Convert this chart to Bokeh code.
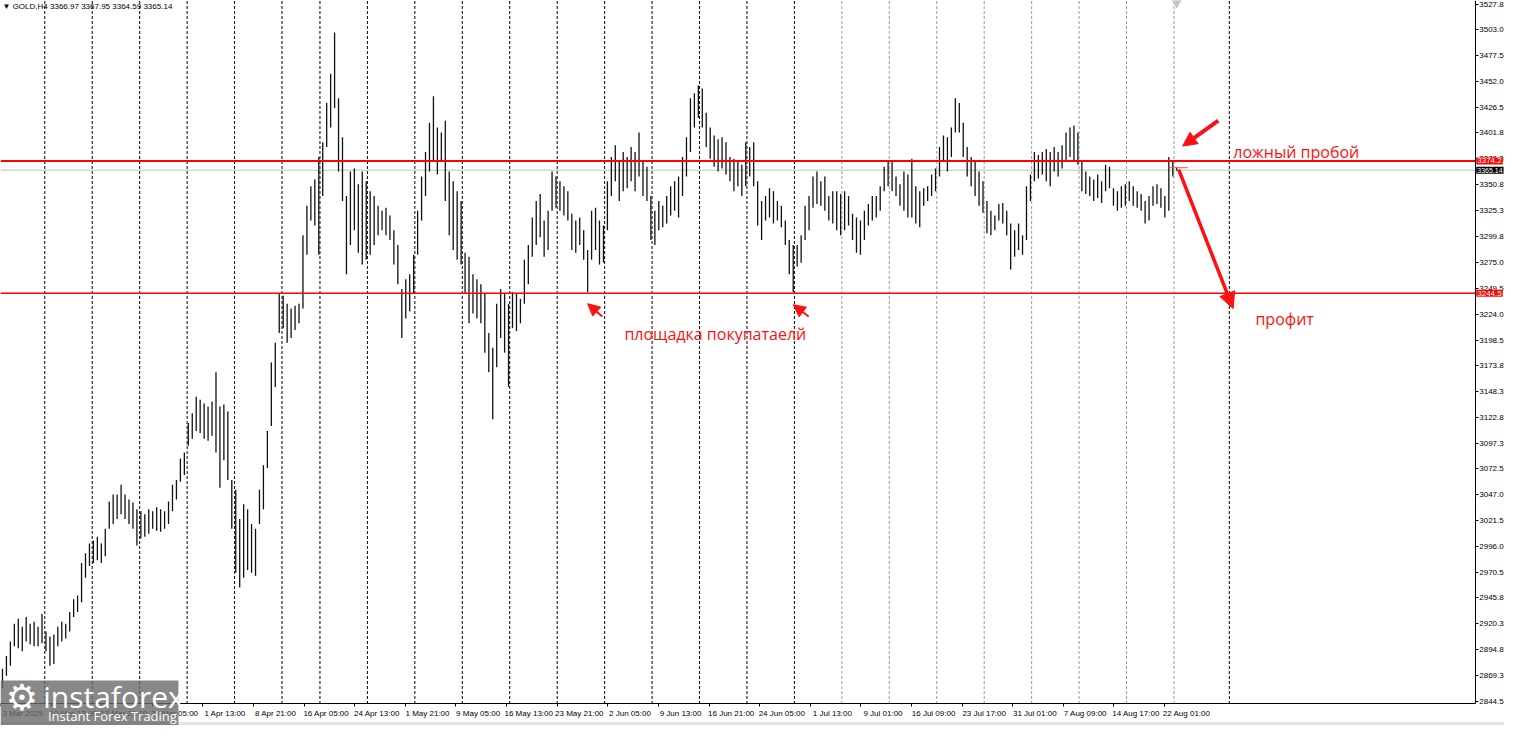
from bokeh.plotting import figure
from bokeh.models import (Range1d, FixedTicker, Label, Arrow, NormalHead, PrintfTickFormatter, BoxAnnotation,
                          ColumnDataSource, LinearAxis)
from bokeh.embed import file_html
from bokeh.resources import INLINE

highs = [2876.1, 2888.6, 2903.0, 2920.3, 2925.1, 2917.4, 2927.0, 2920.3, 2922.2, 2917.4, 2929.9,
         2912.6, 2907.8, 2909.7, 2917.4, 2922.2, 2920.3, 2931.8, 2944.3, 2948.1, 2979.8, 2989.4, 2999.0,
         3001.9, 3005.7, 2999.0, 3013.4, 3040.3, 3047.0, 3047.0, 3056.6, 3047.0, 3042.2, 3039.3, 3032.6,
         3030.7, 3027.8, 3032.6, 3030.7, 3034.5, 3032.6, 3030.7, 3040.3, 3056.6, 3061.4, 3082.5, 3088.3,
         3117.1, 3126.7, 3143.0, 3140.1, 3136.3, 3133.4, 3138.2, 3167.0, 3133.4, 3135.3, 3128.6, 3061.4,
         3051.8, 3023.0, 3037.4, 3032.6, 3018.2, 3013.4, 3051.8, 3075.8, 3109.4, 3176.6, 3195.8, 3243.8,
         3241.9, 3234.2, 3229.4, 3232.3, 3234.2, 3301.4, 3330.2, 3349.4, 3356.1, 3378.2,
         3392.6, 3431.0, 3459.8, 3500.1, 3435.8, 3397.4, 3339.8, 3363.8, 3366.7, 3351.3, 3363.8, 3354.2,
         3344.6, 3339.8, 3330.2, 3325.4, 3328.3, 3320.6, 3306.2, 3291.8, 3248.6, 3258.2, 3263.0, 3282.2,
         3325.4, 3359.0, 3383.0, 3411.8, 3437.7, 3407.0, 3402.2, 3413.7, 3363.8, 3354.2, 3344.6, 3335.0,
         3284.1, 3280.3, 3263.0, 3258.2, 3253.4, 3243.8, 3205.4, 3191.0, 3234.2, 3248.6, 3243.8, 3234.2,
         3245.7, 3243.8, 3239.0, 3277.4, 3291.8, 3318.7, 3335.0, 3341.7, 3315.8, 3325.4, 3363.8, 3359.0,
         3354.2, 3349.4, 3344.6, 3322.5, 3315.8, 3318.7, 3306.2, 3287.0, 3325.4, 3328.3, 3315.8, 3311.0,
         3354.2, 3378.2, 3389.7, 3373.4, 3383.0, 3378.2, 3387.8, 3383.0, 3402.2, 3373.4, 3368.6, 3339.8,
         3325.4, 3335.0, 3330.2, 3339.8, 3349.4, 3354.2, 3359.0, 3378.2, 3397.4, 3435.8, 3440.6, 3448.3,
         3445.4, 3421.4, 3407.0, 3399.3, 3395.5, 3397.4, 3392.6, 3378.2, 3376.3, 3373.4, 3370.5, 3392.6,
         3387.8, 3392.6, 3354.2, 3335.0, 3339.8, 3347.5, 3344.6, 3335.0, 3330.2, 3315.8, 3296.6, 3291.8,
         3291.8, 3301.4, 3330.2, 3339.8, 3359.0, 3363.8, 3354.2, 3359.0, 3339.8, 3344.6, 3344.6,
         3341.7, 3344.6, 3339.8, 3322.5, 3318.7, 3315.8, 3325.4, 3332.1, 3339.8, 3339.8, 3349.4, 3368.6, 3373.4,
         3373.4, 3359.0, 3351.3, 3363.8, 3360.9, 3376.3, 3349.4, 3344.6, 3347.5, 3349.4, 3360.9, 3366.7,
         3387.8, 3399.3, 3397.4, 3407.0, 3435.8, 3431.0, 3411.8, 3387.8, 3378.2, 3373.4, 3363.8, 3354.2,
         3335.0, 3325.4, 3320.6, 3332.1, 3333.1, 3325.4, 3312.9, 3306.2, 3312.9, 3301.4, 3349.4, 3360.9,
         3383.0, 3380.1, 3383.0, 3385.9, 3383.0, 3387.8, 3383.0, 3389.7, 3402.2, 3407.0, 3409.0, 3402.2,
         3373.4, 3363.8, 3359.0, 3356.1, 3360.9, 3354.2, 3370.5, 3368.6, 3347.5, 3344.6, 3349.4, 3351.3,
         3354.2, 3349.4, 3344.6, 3341.7, 3335.0, 3339.8, 3349.4, 3351.3, 3347.5, 3339.8, 3378.2, 3373.4, 3368.0]

lows = [2856.9, 2869.4, 2879.0, 2898.2, 2896.3, 2893.4, 2903.0, 2900.1, 2898.2, 2898.2, 2901.1,
        2893.4, 2879.0, 2880.9, 2898.2, 2903.0, 2905.9, 2912.6, 2927.0, 2931.8, 2941.4, 2965.4, 2976.9,
        2979.8, 2982.7, 2979.8, 2986.5, 3013.4, 3018.2, 3023.0, 3027.8, 3023.0, 3018.2, 3013.4, 2997.1,
        3003.8, 3005.7, 3008.6, 3013.4, 3011.5, 3010.5, 3013.4, 3018.2, 3030.7, 3042.2, 3059.5, 3066.2,
        3095.0, 3101.8, 3109.4, 3107.5, 3101.8, 3099.8, 3104.6, 3088.3, 3053.7, 3080.6, 3061.4, 3013.4,
        2970.2, 2955.8, 2965.4, 2973.1, 2970.2, 2967.3, 3018.2, 3032.6, 3072.9, 3114.2, 3152.6, 3205.4,
        3210.2, 3195.8, 3200.6, 3208.3, 3215.0, 3229.4, 3282.2, 3315.8, 3311.0, 3282.2,
        3339.8, 3387.8, 3407.0, 3426.2, 3363.8, 3335.0, 3263.0, 3291.8, 3306.2, 3284.1, 3272.6, 3277.4,
        3282.2, 3291.8, 3301.4, 3306.2, 3301.4, 3296.6, 3272.6, 3253.4, 3200.6, 3219.8, 3226.5, 3243.8,
        3282.2, 3315.8, 3339.8, 3363.8, 3373.4, 3360.9, 3373.4, 3335.0, 3301.4, 3287.0, 3277.4, 3272.6,
        3243.8, 3215.0, 3224.6, 3219.8, 3215.0, 3186.2, 3167.0, 3120.9, 3171.8, 3200.6, 3186.2, 3152.6,
        3210.2, 3207.3, 3215.0, 3234.2, 3253.4, 3280.3, 3291.8, 3299.5, 3280.3, 3287.0, 3325.4, 3328.3,
        3325.4, 3320.6, 3315.8, 3287.0, 3284.1, 3291.8, 3277.4, 3245.7, 3277.4, 3287.0, 3272.6, 3274.5,
        3306.2, 3339.8, 3354.2, 3335.0, 3344.6, 3347.5, 3354.2, 3344.6, 3359.0, 3339.8, 3335.0, 3296.6,
        3291.8, 3306.2, 3309.1, 3312.9, 3320.6, 3325.4, 3318.7, 3339.8, 3359.0, 3383.0, 3407.0, 3416.6,
        3407.0, 3387.8, 3376.3, 3368.6, 3363.8, 3366.7, 3360.9, 3354.2, 3344.6, 3349.4, 3339.8, 3349.4,
        3359.0, 3349.4, 3311.0, 3296.6, 3315.8, 3318.7, 3312.9, 3315.8, 3309.1, 3291.8, 3263.0, 3245.7,
        3270.7, 3274.5, 3296.6, 3306.2, 3328.3, 3332.1, 3330.2, 3325.4, 3315.8, 3312.9, 3306.2,
        3301.4, 3306.2, 3311.0, 3296.6, 3284.1, 3282.2, 3296.6, 3311.0, 3315.8, 3318.7, 3325.4, 3344.6, 3349.4,
        3344.6, 3339.8, 3330.2, 3325.4, 3318.7, 3318.7, 3312.9, 3309.1, 3330.2, 3335.0, 3339.8, 3344.6,
        3359.0, 3373.4, 3363.8, 3378.2, 3402.2, 3402.2, 3378.2, 3359.0, 3349.4, 3339.8, 3330.2, 3323.5,
        3303.3, 3301.4, 3306.2, 3315.8, 3312.9, 3301.4, 3267.8, 3280.3, 3287.0, 3282.2, 3296.6, 3335.0,
        3354.2, 3357.1, 3361.0, 3354.2, 3349.4, 3363.8, 3359.0, 3366.7, 3373.4, 3378.2, 3373.4, 3370.5,
        3344.6, 3341.7, 3339.8, 3335.0, 3337.9, 3333.1, 3344.6, 3347.5, 3330.2, 3325.4, 3328.3, 3330.2,
        3335.0, 3330.2, 3328.3, 3325.4, 3312.9, 3315.8, 3330.2, 3332.1, 3328.3, 3318.7, 3325.4, 3359.0, 3364.6]

# x-axis date labels, every 32 H4 bars
date_labels = ["3 Mar 2025", "10 Mar 13:00", "17 Mar 21:00", "25 Mar 05:00", "1 Apr 13:00", "8 Apr 21:00",
               "16 Apr 05:00", "24 Apr 13:00", "1 May 21:00", "9 May 05:00", "16 May 13:00", "23 May 21:00",
               "2 Jun 05:00", "9 Jun 13:00", "16 Jun 21:00", "24 Jun 05:00", "1 Jul 13:00", "9 Jul 01:00",
               "16 Jul 09:00", "23 Jul 17:00", "31 Jul 01:00", "7 Aug 09:00", "14 Aug 17:00", "22 Aug 01:00"]
# weekly period separators (H4 bar numbers)
week_seps = [28, 58, 88, 118, 148, 178, 202, 232, 262, 292, 322, 352, 382, 412, 442, 472, 502,
             532, 562, 592, 622, 652, 682, 712, 742, 777]
price_ticks = [2844.5, 2869.3, 2894.8, 2920.3, 2945.8, 2970.5, 2996.0, 3021.5, 3047.0, 3072.5, 3097.3,
               3122.8, 3148.3, 3173.8, 3198.5, 3224.0, 3249.5, 3275.0, 3299.8, 3325.3, 3350.8, 3376.3,
               3401.8, 3426.5, 3452.0, 3477.5, 3503.0, 3527.8]
resistance = 3374.2
support = 3244.5
bid = 3365.14
ask = 3367.6

# chart window (H4 bar numbers / prices)
X_END = 932.5        # right price scale position
P_BOTTOM = 2841.6    # time scale position
P_TOP = 3531.6
P_MIN = 2820.5

bar_no = [1.25 + 2.5 * i for i in range(len(highs))]
src = ColumnDataSource(dict(x=bar_no, hi=highs, lo=lows))

FONT = "Liberation Sans"
p = figure(width=1504, height=725, output_backend="svg", toolbar_location=None,
           x_range=Range1d(0, 951), y_range=Range1d(P_MIN, P_TOP),
           y_axis_location="right", min_border=0, min_border_left=0, min_border_top=0,
           min_border_right=0, min_border_bottom=0)
p.outline_line_color = None
p.xgrid.visible = False
p.ygrid.visible = False
p.background_fill_color = "white"
p.border_fill_color = "white"

# bottom strip of the terminal window
p.add_layout(BoxAnnotation(left=0, right=951, bottom=P_MIN, top=2824.0, fill_color="#e2e2e2",
                           fill_alpha=1, line_color=None))

# axes, pinned at the chart window edges
label_pos = [32 * j for j in range(len(date_labels))]
xa = p.xaxis[0]
xa.ticker = FixedTicker(ticks=label_pos)
xa.major_label_text_color = None
xa.fixed_location = P_BOTTOM
xa.bounds = (0, X_END)
ya = p.yaxis[0]
ya.ticker = FixedTicker(ticks=price_ticks)
ya.formatter = PrintfTickFormatter(format="%.1f")
ya.fixed_location = X_END
ya.bounds = (P_BOTTOM, P_TOP)
for ax in (xa, ya):
    ax.axis_line_color = "black"
    ax.major_tick_line_color = "black"
    ax.major_tick_in = 0
    ax.major_tick_out = 3
    ax.minor_tick_line_color = None
    ax.major_label_text_font = FONT
    ax.major_label_text_font_size = "8px"
    ax.major_label_standoff = 1
ya.major_label_text_color = "black"

# date labels start at their tick (as in the terminal)
lab_pos = [pos + 14 for pos in label_pos]
lab_axis = LinearAxis(ticker=FixedTicker(ticks=lab_pos),
                      major_label_overrides={pos: lab for pos, lab in zip(lab_pos, date_labels)},
                      fixed_location=P_BOTTOM, axis_line_color=None, major_tick_line_color=None,
                      minor_tick_line_color=None, major_tick_in=0, major_tick_out=3,
                      major_label_standoff=2, major_label_text_font=FONT,
                      major_label_text_font_size="8px", major_label_text_color="black")
p.add_layout(lab_axis, "below")

# period separators
sep_col = ["black" if (s < 520 or s == week_seps[-1]) else "#9a9a9a" for s in week_seps]
p.segment(x0=week_seps, y0=[P_BOTTOM] * len(week_seps), x1=week_seps, y1=[P_TOP] * len(week_seps),
          line_color=sep_col, line_width=1, line_dash="3 2")

# bid line
p.segment(x0=[0], y0=[bid], x1=[X_END], y1=[bid], line_color="#d4d4d4", line_width=1.5)

# bars
p.segment(x0="x", y0="lo", x1="x", y1="hi", source=src, line_color="#111111", line_width=1.3)

# ask marker
p.segment(x0=[bar_no[-1] - 5], y0=[ask], x1=[bar_no[-1] + 7], y1=[ask], line_color="#ff5a1f", line_width=1)

# chart shift marker
p.scatter(x=[bar_no[-1]], y=[P_TOP - 2], marker="inverted_triangle", size=9,
          fill_color="#c4c4c4", line_color="#c4c4c4")

# level lines
p.segment(x0=[0], y0=[resistance], x1=[X_END], y1=[resistance], line_color="#ff0000", line_width=2)
p.segment(x0=[0], y0=[support], x1=[X_END], y1=[support], line_color="#ff0000", line_width=1.5)

# price tags on the scale
for val, txt, bg, fs in [(resistance, "3374.2", "#ff0000", "8px"), (support, "3244.5", "#ff0000", "8px"),
                         (bid, "3365.14", "black", "7px")]:
    p.add_layout(Label(x=X_END, y=val, x_offset=1, text=txt, text_color="white", text_font=FONT,
                       text_font_size=fs, text_baseline="middle", background_fill_color=bg,
                       padding=1))

# header
p.add_layout(Label(x=0, y=P_TOP, x_offset=2, y_offset=-1, text="\u25bc GOLD,H4 3366.97 3367.95 3364.59 3365.14",
                   text_font=FONT, text_font_size="8px", text_baseline="top", text_color="black"))

# annotations
RED = "#ff1010"
for x, y, t in [(779.5, 3383.0, "ложный пробой"), (793.5, 3218.8, "профит"), (394.5, 3204.4, "площадка покупатаелй")]:
    p.add_layout(Label(x=x, y=y, text=t, text_color=RED, text_font="Open Sans", text_font_size="16px",
                       text_baseline="middle"))

for (xs, ys, xe, ye, w, hs) in [(770, 3413.7, 747.5, 3388.8, 4, 14),
                                 (745, 3365.7, 779.4, 3229.4, 3.5, 16),
                                 (380.5, 3221.7, 371.25, 3234.2, 2, 12),
                                 (511, 3221.7, 501.25, 3233.2, 2, 12)]:
    p.add_layout(Arrow(x_start=xs, y_start=ys, x_end=xe, y_end=ye, line_color=RED, line_width=w,
                       end=NormalHead(size=hs, fill_color=RED, line_color=RED)))

# watermark logo
p.add_layout(BoxAnnotation(left=0, right=112.5, bottom=P_MIN, top=2864.6, fill_color="#6a6a6a",
                           fill_alpha=0.8, line_color=None, level="overlay"))
p.add_layout(Label(x=13.5, y=2847.5, text="\u2699", text_color="white", text_font="DejaVu Sans",
                   text_font_size="36px", text_baseline="middle", text_align="center", level="overlay"))
p.add_layout(Label(x=27, y=2849.0, text="instaforex", text_color="white", text_font="Open Sans",
                   text_font_size="30px", text_baseline="middle", level="overlay"))
p.add_layout(Label(x=30, y=2829.5, text="Instant Forex Trading", text_color="white", text_font="Open Sans",
                   text_font_size="13px", text_baseline="middle", level="overlay"))

open("out.html", "w").write(file_html(p, INLINE))
